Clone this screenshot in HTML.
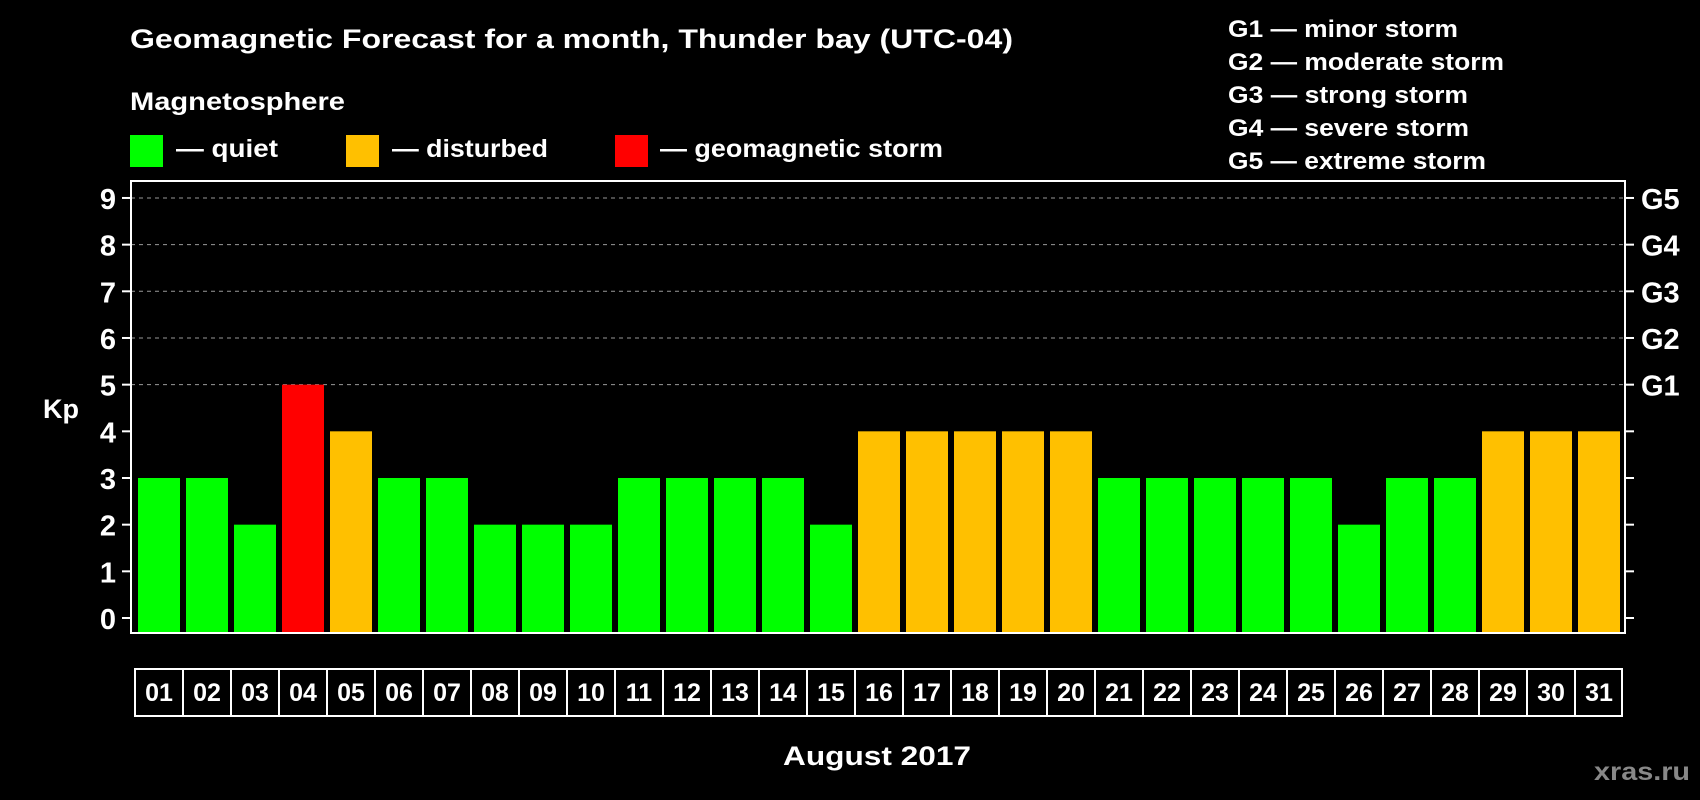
<!DOCTYPE html>
<html><head><meta charset="utf-8"><style>
html,body{margin:0;padding:0;background:#000;width:1700px;height:800px;overflow:hidden}
svg{display:block;font-family:"Liberation Sans",sans-serif;font-weight:bold}
</style></head><body>
<svg id="chart" width="1700" height="800" xmlns="http://www.w3.org/2000/svg">
<rect width="1700" height="800" fill="#000"/>
<text x="130" y="48" fill="#fff" font-size="27" textLength="883" lengthAdjust="spacingAndGlyphs">Geomagnetic Forecast for a month, Thunder bay (UTC-04)</text>
<text x="130" y="110" fill="#fff" font-size="25" textLength="215" lengthAdjust="spacingAndGlyphs">Magnetosphere</text>
<g><rect x="130" y="135" width="33" height="32" fill="#00ff00"/><text x="176" y="157" fill="#fff" font-size="25" textLength="102" lengthAdjust="spacingAndGlyphs">— quiet</text></g>
<g><rect x="346" y="135" width="33" height="32" fill="#ffc000"/><text x="392" y="157" fill="#fff" font-size="25" textLength="156" lengthAdjust="spacingAndGlyphs">— disturbed</text></g>
<g><rect x="615" y="135" width="33" height="32" fill="#ff0000"/><text x="660" y="157" fill="#fff" font-size="25" textLength="283" lengthAdjust="spacingAndGlyphs">— geomagnetic storm</text></g>
<g fill="#fff" font-size="24">
<text x="1228" y="37" textLength="230" lengthAdjust="spacingAndGlyphs">G1 — minor storm</text>
<text x="1228" y="70" textLength="276" lengthAdjust="spacingAndGlyphs">G2 — moderate storm</text>
<text x="1228" y="103" textLength="240" lengthAdjust="spacingAndGlyphs">G3 — strong storm</text>
<text x="1228" y="136" textLength="241" lengthAdjust="spacingAndGlyphs">G4 — severe storm</text>
<text x="1228" y="169" textLength="258" lengthAdjust="spacingAndGlyphs">G5 — extreme storm</text>
</g>
<text x="43" y="418" fill="#fff" font-size="27">Kp</text>
<g id="grid"></g>
<g id="bars"></g>
<g id="axes"></g>
<g id="days"></g>
<text x="877" y="765" fill="#fff" font-size="27" text-anchor="middle" textLength="188" lengthAdjust="spacingAndGlyphs">August 2017</text>
<text x="1690" y="780" fill="#888" font-size="25" text-anchor="end" textLength="96" lengthAdjust="spacingAndGlyphs">xras.ru</text>
</svg>
<script>
const days = ["01","02","03","04","05","06","07","08","09","10","11","12","13","14","15","16","17","18","19","20","21","22","23","24","25","26","27","28","29","30","31"];
const kpValues = [3,3,2,5,4,3,3,2,2,2,3,3,3,3,2,4,4,4,4,4,3,3,3,3,3,2,3,3,4,4,4];
const yTicks = [0,1,2,3,4,5,6,7,8,9];
const gLabels = ["G1","G2","G3","G4","G5"];
const gLevels = [5,6,7,8,9];

const NS = "http://www.w3.org/2000/svg";
const plotL = 131, plotR = 1625, plotT = 181, plotB = 633;
const y0 = 618, unit = 46.67;
const barStart = 138, pitch = 48, barW = 42;
function yScale(v){ return y0 - v*unit; }
function xScale(i){ return barStart + i*pitch; }
function mk(tag, attrs, parent){ const e=document.createElementNS(NS,tag); for(const k in attrs) e.setAttribute(k,attrs[k]); parent.appendChild(e); return e; }
function color(v){ return v>=5 ? "#ff0000" : (v>=4 ? "#ffc000" : "#00ff00"); }

const grid = document.getElementById("grid");
const bars = document.getElementById("bars");
const axes = document.getElementById("axes");
const dayG = document.getElementById("days");

gLevels.forEach(v=>{
  const l = mk("line",{x1:plotL,x2:plotR,y1:yScale(v),y2:yScale(v),stroke:"#999","stroke-width":1,"stroke-dasharray":"4,4"},grid);
  
  
});

kpValues.forEach((v,i)=>{
  const r = mk("rect",{x:xScale(i),y:yScale(v),width:barW,height:plotB-1-yScale(v),fill:color(v)},bars);
  
  
});

const frame = mk("rect",{x:plotL,y:plotT,width:plotR-plotL,height:plotB-plotT,fill:"none",stroke:"#fff","stroke-width":2},axes);



yTicks.forEach(v=>{
  const y = yScale(v);
  mk("line",{x1:plotL-9,x2:plotL,y1:y,y2:y,stroke:"#fff","stroke-width":2},axes);
  mk("line",{x1:plotR,x2:plotR+9,y1:y,y2:y,stroke:"#fff","stroke-width":2},axes);
  const t = mk("text",{x:116,y:y+11,fill:"#fff","font-size":29,"text-anchor":"end"},axes);
  t.textContent = v;
  
  
});

gLevels.forEach((v,i)=>{
  const t = mk("text",{x:1641,y:yScale(v)+11,fill:"#fff","font-size":29},axes);
  t.textContent = gLabels[i];
  
  
});

const boxL = 135, boxT = 669, boxB = 716;
const boxR = boxL + days.length*pitch - 1;
const dbox = mk("rect",{x:boxL,y:boxT,width:boxR-boxL,height:boxB-boxT,fill:"none",stroke:"#fff","stroke-width":2},dayG);


days.forEach((d,i)=>{
  if(i>0) mk("line",{x1:boxL+i*pitch,x2:boxL+i*pitch,y1:boxT,y2:boxB,stroke:"#fff","stroke-width":2},dayG);
  const t = mk("text",{x:xScale(i)+barW/2,y:701,fill:"#fff","font-size":25,"text-anchor":"middle"},dayG);
  t.textContent = d;
  
  
});
</script>
</body></html>
